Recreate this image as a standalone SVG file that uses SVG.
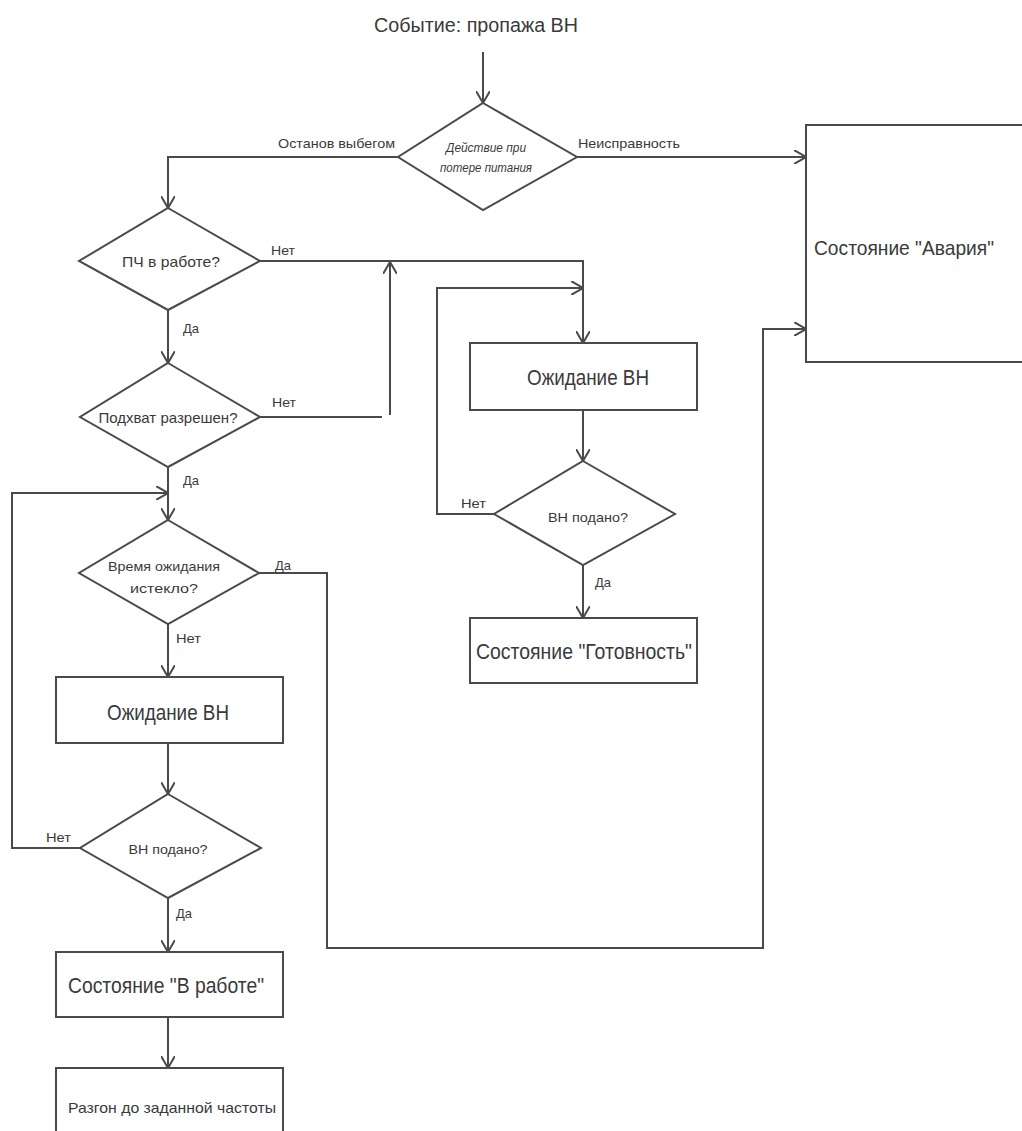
<svg xmlns="http://www.w3.org/2000/svg" width="1022" height="1131" viewBox="0 0 1022 1131">
<defs>
<style>
.n{fill:#fff;stroke:#4a4a4a;stroke-width:2}
.c{fill:none;stroke:#4a4a4a;stroke-width:2}
text{font-family:"Liberation Sans","DejaVu Sans",sans-serif;fill:#3a3a3a;text-anchor:middle}
.big{font-size:22px}
.ttl{font-size:20px}
.mid{font-size:15px}
.sm{font-size:13px}
.lbl{font-size:13px;text-anchor:start}
</style>
<marker id="a" viewBox="0 0 12 14" refX="12" refY="7" markerWidth="12" markerHeight="14" markerUnits="userSpaceOnUse" orient="auto">
<path d="M0,0 L12,7 L0,14" fill="none" stroke="#4a4a4a" stroke-width="2"/>
</marker>
</defs>
<rect width="1022" height="1131" fill="#fff"/>

<g id="connectors">
<path class="c" d="M483,52 V103" marker-end="url(#a)"/>
<path class="c" d="M398,157 H168 V208" marker-end="url(#a)"/>
<path class="c" d="M577,157 H806" marker-end="url(#a)"/>
<path class="c" d="M260,261 H583 V343" marker-end="url(#a)"/>
<path class="c" d="M168,310 V363" marker-end="url(#a)"/>
<path class="c" d="M260,417 H382"/>
<path class="c" d="M390,415 V262" marker-end="url(#a)"/>
<path class="c" d="M168,467 V520" marker-end="url(#a)"/>
<path class="c" d="M80,848 H12 V493 H168" marker-end="url(#a)"/>
<path class="c" d="M259,573 H327 V948 H763 V329 H806" marker-end="url(#a)"/>
<path class="c" d="M168,624 V677" marker-end="url(#a)"/>
<path class="c" d="M168,743 V794" marker-end="url(#a)"/>
<path class="c" d="M168,898 V952" marker-end="url(#a)"/>
<path class="c" d="M168,1017 V1068" marker-end="url(#a)"/>
<path class="c" d="M583,410 V461" marker-end="url(#a)"/>
<path class="c" d="M494,514 H437 V288 H583" marker-end="url(#a)"/>
<path class="c" d="M583,565 V618" marker-end="url(#a)"/>
<text class="lbl" x="278" y="148" textLength="117" lengthAdjust="spacingAndGlyphs">Останов выбегом</text>
<text class="lbl" x="578" y="148" textLength="102" lengthAdjust="spacingAndGlyphs">Неисправность</text>
<text class="lbl" x="271" y="255" textLength="24" lengthAdjust="spacingAndGlyphs">Нет</text>
<text class="lbl" x="183" y="333" textLength="16" lengthAdjust="spacingAndGlyphs">Да</text>
<text class="lbl" x="272" y="407" textLength="24" lengthAdjust="spacingAndGlyphs">Нет</text>
<text class="lbl" x="183" y="485" textLength="16" lengthAdjust="spacingAndGlyphs">Да</text>
<text class="lbl" x="275" y="570" textLength="16" lengthAdjust="spacingAndGlyphs">Да</text>
<text class="lbl" x="176" y="643" textLength="25" lengthAdjust="spacingAndGlyphs">Нет</text>
<text class="lbl" x="46" y="842" textLength="25" lengthAdjust="spacingAndGlyphs">Нет</text>
<text class="lbl" x="176" y="918" textLength="16" lengthAdjust="spacingAndGlyphs">Да</text>
<text class="lbl" x="461" y="508" textLength="25" lengthAdjust="spacingAndGlyphs">Нет</text>
<text class="lbl" x="595" y="587" textLength="16" lengthAdjust="spacingAndGlyphs">Да</text>
</g>

<g id="title"><text class="ttl" x="476" y="32" textLength="204" lengthAdjust="spacingAndGlyphs">Событие: пропажа ВН</text></g>

<g id="d1">
<polygon class="n" points="483,103 577,157 483,210 398,157"/>
<text class="sm" x="486" y="152" textLength="80" lengthAdjust="spacingAndGlyphs" style="font-style:italic">Действие при</text>
<text class="sm" x="486" y="172" textLength="92" lengthAdjust="spacingAndGlyphs" style="font-style:italic">потере питания</text>
</g>

<g id="alarm">
<path class="n" d="M1022,125 H806 V362 H1022"/>
<text x="904" y="255" font-size="21" textLength="180" lengthAdjust="spacingAndGlyphs">Состояние "Авария"</text>
</g>

<g id="d2">
<polygon class="n" points="168,208 260,261 168,310 79,261"/>
<text class="mid" x="171" y="267" textLength="98" lengthAdjust="spacingAndGlyphs">ПЧ в работе?</text>
</g>

<g id="d3">
<polygon class="n" points="168,363 260,417 168,467 80,417"/>
<text class="mid" x="168" y="423" textLength="139" lengthAdjust="spacingAndGlyphs">Подхват разрешен?</text>
</g>

<g id="d4">
<polygon class="n" points="168,520 259,573 168,624 79,573"/>
<text class="sm" x="164" y="571" textLength="112" lengthAdjust="spacingAndGlyphs">Время ожидания</text>
<text class="sm" x="164" y="593" textLength="68" lengthAdjust="spacingAndGlyphs">истекло?</text>
</g>

<g id="wait1">
<rect class="n" x="56" y="677" width="227" height="66"/>
<text class="big" x="168" y="720" textLength="122" lengthAdjust="spacingAndGlyphs">Ожидание ВН</text>
</g>

<g id="d5">
<polygon class="n" points="168,794 261,848 168,898 80,848"/>
<text class="sm" x="168" y="854" textLength="79" lengthAdjust="spacingAndGlyphs">ВН подано?</text>
</g>

<g id="work">
<rect class="n" x="56" y="952" width="227" height="65"/>
<text class="big" x="166" y="993" textLength="196" lengthAdjust="spacingAndGlyphs">Состояние "В работе"</text>
</g>

<g id="accel">
<path class="n" d="M56,1131 V1068 H283 V1131"/>
<text class="mid" x="172" y="1113" textLength="208" lengthAdjust="spacingAndGlyphs">Разгон до заданной частоты</text>
</g>

<g id="wait2">
<rect class="n" x="470" y="343" width="227" height="67"/>
<text class="big" x="588" y="385" textLength="122" lengthAdjust="spacingAndGlyphs">Ожидание ВН</text>
</g>

<g id="d6">
<polygon class="n" points="583,461 675,514 583,565 494,514"/>
<text class="sm" x="588" y="522" textLength="80" lengthAdjust="spacingAndGlyphs">ВН подано?</text>
</g>

<g id="ready">
<rect class="n" x="470" y="618" width="227" height="65"/>
<text class="big" x="584" y="659" textLength="216" lengthAdjust="spacingAndGlyphs">Состояние "Готовность"</text>
</g>
</svg>
